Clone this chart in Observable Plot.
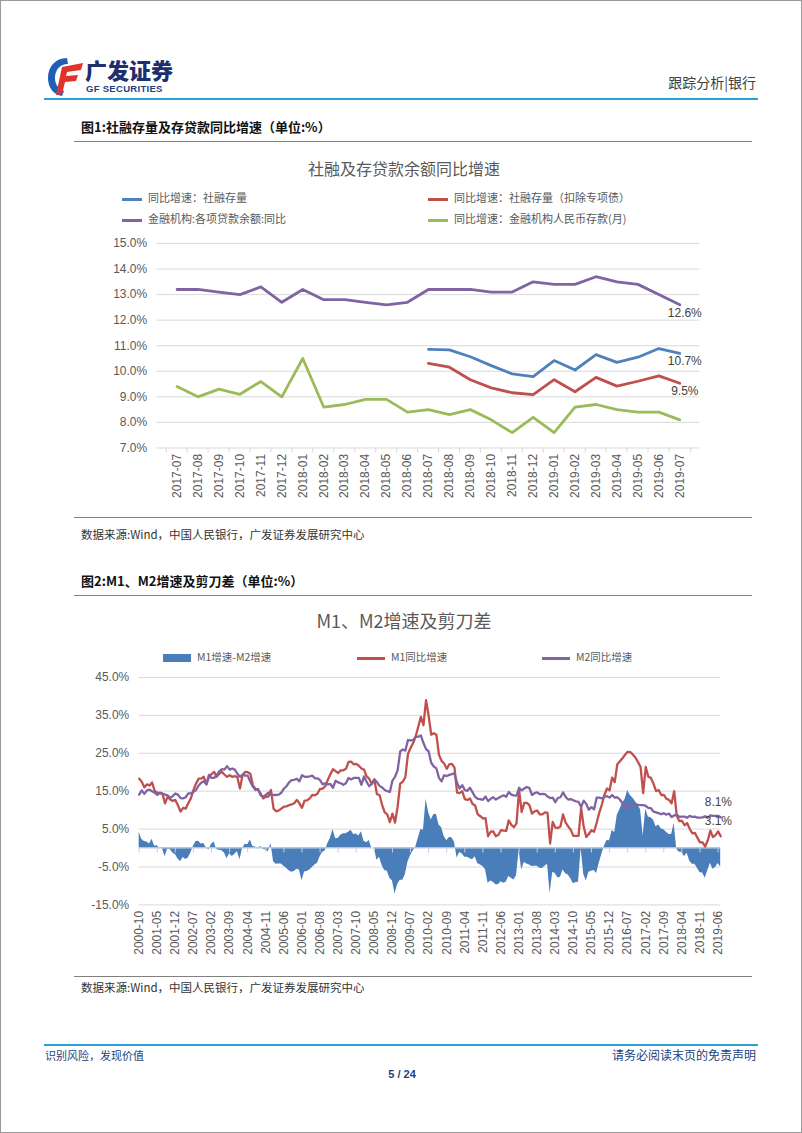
<!DOCTYPE html>
<html><head><meta charset="utf-8">
<script src="https://cdn.jsdelivr.net/npm/d3@7"></script>
<script src="https://cdn.jsdelivr.net/npm/@observablehq/plot@0.6"></script>
<style>
html,body{margin:0;padding:0;background:#fff;}
#page{position:relative;width:800px;height:1131px;border:1px solid #9a9a9a;overflow:hidden;font-family:"Noto Sans CJK SC","Noto Sans",sans-serif;background:#fff;}
.a{position:absolute;white-space:nowrap;}
.hline{position:absolute;height:0;}
.leg{position:absolute;font-size:11px;color:#595959;line-height:14px;white-space:nowrap;}
.sw{display:inline-block;vertical-align:middle;margin-right:6px;}
.chart{position:absolute;left:0;}
</style></head>
<body><div id="page">
  <!-- header logo -->
  <svg class="a" style="left:44px;top:54px" width="40" height="44" viewBox="0 0 40 44">
    <path d="M22 3 C10 3 3 12 3 23 C3 33 9 40 17 41 L19 36 C13 34 10 29 10 23 C10 15 15 9 23 9 Z" fill="#1f5fb5"/>
    <path d="M17 12 L38 8 L36 15 L22 17 L21 21 L33 20 L31 26 L20 27 L17 39 L11 40 Z" fill="#e0342a"/>
  </svg>
  <div class="a" style="left:84px;top:56px;font-size:22px;font-weight:900;color:#1d2f6f;line-height:24px">广发证券</div>
  <div class="a" style="left:85px;top:83px;font-size:9.5px;font-weight:bold;color:#1d3f80;font-family:'Liberation Sans',Arial,sans-serif;line-height:10px;letter-spacing:0.3px">GF SECURITIES</div>
  <div class="a" style="right:45px;top:72px;font-size:14px;color:#404040;line-height:18px">跟踪分析|银行</div>
  <div class="hline" style="left:43px;width:714px;top:97px;border-top:2px solid #2a9fd8"></div>

  <!-- figure 1 -->
  <div class="a" style="left:80px;top:117px;font-size:13px;font-weight:bold;color:#111;line-height:18px">图1:社融存量及存贷款同比增速（单位:%）</div>
  <div class="hline" style="left:73px;width:678px;top:140px;border-top:1.5px solid #808080"></div>
  <div class="a" style="left:0;width:806px;text-align:center;top:156px;font-size:16px;color:#595959;line-height:22px">社融及存贷款余额同比增速</div>
  <div class="leg" style="left:121px;top:189px"><span class="sw" style="width:20px;height:3px;background:#4f81bd"></span>同比增速：社融存量</div>
  <div class="leg" style="left:427px;top:189px"><span class="sw" style="width:20px;height:3px;background:#c0504d"></span>同比增速：社融存量（扣除专项债）</div>
  <div class="leg" style="left:121px;top:210px"><span class="sw" style="width:20px;height:3px;background:#8064a2"></span>金融机构:各项贷款余额:同比</div>
  <div class="leg" style="left:427px;top:210px"><span class="sw" style="width:20px;height:3px;background:#9bbb59"></span>同比增速：金融机构人民币存款(月)</div>
  <div id="chart1" class="chart" style="top:232px"></div>
  <div class="hline" style="left:73px;width:678px;top:516px;border-top:1.5px solid #808080"></div>
  <div class="a" style="left:80px;top:525px;font-size:11.5px;color:#333;line-height:16px">数据来源:Wind，中国人民银行，广发证券发展研究中心</div>

  <!-- figure 2 -->
  <div class="a" style="left:80px;top:571px;font-size:13px;font-weight:bold;color:#111;line-height:18px">图2:M1、M2增速及剪刀差（单位:%）</div>
  <div class="hline" style="left:73px;width:678px;top:594px;border-top:1.5px solid #808080"></div>
  <div class="a" style="left:0;width:806px;text-align:center;top:607px;font-size:18px;color:#595959;line-height:24px">M1、M2增速及剪刀差</div>
  <div class="leg" style="left:162px;top:649px;font-size:10.5px"><span class="sw" style="width:28px;height:8px;background:#4a7ebb"></span>M1增速-M2增速</div>
  <div class="leg" style="left:356px;top:649px;font-size:10.5px"><span class="sw" style="width:28px;height:3px;background:#c0504d"></span>M1同比增速</div>
  <div class="leg" style="left:541px;top:649px;font-size:10.5px"><span class="sw" style="width:28px;height:3px;background:#8064a2"></span>M2同比增速</div>
  <div id="chart2" class="chart" style="top:666px"></div>
  <div class="hline" style="left:73px;width:678px;top:975px;border-top:1.5px solid #808080"></div>
  <div class="a" style="left:80px;top:978px;font-size:11.5px;color:#333;line-height:16px">数据来源:Wind，中国人民银行，广发证券发展研究中心</div>

  <!-- footer -->
  <div class="hline" style="left:43px;width:714px;top:1043px;border-top:2px solid #2a9fd8"></div>
  <div class="a" style="left:44px;top:1047px;font-size:11px;color:#1d3f80;line-height:14px">识别风险，发现价值</div>
  <div class="a" style="right:45px;top:1046px;font-size:12px;color:#1d3f80;line-height:16px">请务必阅读末页的免责声明</div>
  <div class="a" style="left:0;width:802px;text-align:center;top:1066px;font-size:11px;font-weight:bold;color:#1d3f80;line-height:14px;font-family:'Liberation Sans',Arial,sans-serif">5 / 24</div>
</div>
<script>
// ---------- Figure 1 data ----------
const months1 = ["2017-07","2017-08","2017-09","2017-10","2017-11","2017-12","2018-01","2018-02","2018-03","2018-04","2018-05","2018-06","2018-07","2018-08","2018-09","2018-10","2018-11","2018-12","2019-01","2019-02","2019-03","2019-04","2019-05","2019-06","2019-07"];
const loanGrowth = [13.2,13.2,13.1,13.0,13.3,12.7,13.2,12.8,12.8,12.7,12.6,12.7,13.2,13.2,13.2,13.1,13.1,13.5,13.4,13.4,13.7,13.5,13.4,13.0,12.6];
const depositGrowth = [9.4,9.0,9.3,9.1,9.6,9.0,10.5,8.6,8.7,8.9,8.9,8.4,8.5,8.3,8.5,8.1,7.6,8.2,7.6,8.6,8.7,8.5,8.4,8.4,8.1];
const tsfMonths = months1.slice(12);
const tsfGrowth = [10.86,10.84,10.57,10.22,9.90,9.79,10.42,10.05,10.65,10.35,10.55,10.89,10.70];
const tsfExGrowth = [10.31,10.16,9.67,9.35,9.16,9.09,9.67,9.20,9.76,9.42,9.61,9.82,9.53];
const yTicks1 = [7,8,9,10,11,12,13,14,15];

// ---------- Figure 2 data ----------
const months2 = d3.utcMonths(new Date(Date.UTC(2000,9,1)), new Date(Date.UTC(2019,7,1))).map(d3.utcFormat("%Y-%m"));
const m1Growth = [
 18.3,17.5,16.0,16.8,16.5,17.3,15.1,14.6,14.4,14.3,
 11.8,13.5,12.8,12.4,12.7,11.3,9.6,10.6,10.4,11.8,
 13.1,15.3,17.0,18.3,18.3,18.8,16.8,18.8,19.5,20.1,
 18.8,19.6,20.1,19.4,18.8,19.2,18.8,19.0,18.7,15.7,
 19.2,20.1,20.0,19.6,16.6,15.6,15.3,14.4,13.1,13.5,
 13.6,15.3,10.4,9.7,9.9,10.4,10.9,11.0,11.3,11.5,
 11.8,12.7,11.8,10.6,12.5,12.6,13.1,14.0,13.9,14.4,
 15.6,15.7,16.3,18.0,19.5,20.8,20.3,19.8,20.5,20.5,
 20.9,22.7,22.8,22.1,22.2,21.7,21.0,20.7,18.9,18.3,
 16.9,18.1,14.2,14.0,11.4,9.4,8.9,6.8,9.1,6.7,
 10.9,17.0,17.5,18.7,24.8,
 26.4,27.7,29.5,32.0,34.6,32.4,
 39.0,34.9,29.9,30.3,29.9,24.6,23.0,22.3,20.9,22.1,22.2,21.2,
 14.6,14.5,15.0,12.9,12.7,13.1,11.6,11.2,8.9,8.4,7.8,7.9,
 3.1,4.3,4.4,3.1,3.5,4.7,4.6,4.5,7.3,6.1,5.5,6.5,
 15.3,9.5,11.9,11.9,11.3,9.1,9.7,9.9,8.9,8.9,9.4,9.3,
 1.2,6.9,5.4,5.3,5.7,8.9,6.7,5.7,4.8,3.2,3.2,3.2,
 10.6,5.6,2.9,3.7,4.7,4.3,6.6,9.3,11.4,14.0,15.7,15.2,
 18.6,17.4,22.1,22.9,23.7,24.6,25.4,25.3,24.7,23.9,22.7,21.4,
 14.5,21.4,18.8,18.5,17.0,15.0,15.3,14.0,14.0,13.0,12.7,11.8,
 15.0,8.5,7.1,7.2,6.0,6.6,5.1,3.9,4.0,2.7,1.5,1.5,
 0.4,2.0,4.6,2.9,3.4,4.4,3.1];
const m2Growth = [
 14.1,15.2,14.3,15.2,15.4,15.0,14.6,14.0,14.6,14.4,
 14.1,13.9,13.2,13.7,14.4,14.1,13.2,13.1,13.4,14.4,
 14.4,14.8,15.3,16.5,17.2,17.6,16.8,19.3,18.5,18.5,
 19.2,20.2,20.8,20.7,21.6,20.7,21.0,20.7,19.6,18.8,
 19.4,19.1,19.1,17.5,16.2,15.3,15.6,13.9,13.5,14.0,
 14.6,14.1,14.0,14.0,14.1,14.6,15.7,16.3,17.3,17.9,
 18.0,18.3,17.6,19.2,18.8,18.8,18.9,19.1,18.4,18.4,
 17.9,16.8,17.1,16.8,16.9,15.9,17.8,17.3,17.1,16.7,
 17.1,18.5,18.1,18.5,18.5,18.5,16.7,18.9,17.5,16.3,
 16.9,18.1,17.4,16.4,16.0,15.3,15.0,14.8,17.8,18.8,
 20.5,25.5,26.0,25.7,28.5,
 28.4,28.5,29.3,29.4,29.7,27.7,
 26.1,25.5,22.5,21.5,21.0,18.5,17.6,19.2,19.0,19.3,19.5,19.7,
 17.2,15.7,16.6,15.3,15.1,15.9,14.7,13.5,13.0,12.9,12.7,13.6,
 12.4,13.0,13.4,12.8,13.2,13.6,13.9,13.5,14.8,14.1,13.9,13.8,
 15.9,15.2,15.7,16.1,15.8,14.0,14.5,14.7,14.2,14.3,14.2,13.6,
 13.2,13.3,12.1,13.2,13.4,14.7,13.5,12.8,12.9,12.6,12.3,12.2,
 10.8,12.5,11.6,10.1,10.8,10.2,13.3,13.3,13.1,13.5,13.7,13.3,
 14.0,13.3,13.4,12.8,11.8,11.8,10.2,11.4,11.5,11.6,11.4,11.3,
 11.3,11.1,10.6,10.5,9.6,9.4,9.2,8.9,9.2,8.8,9.1,8.2,
 8.6,8.8,8.2,8.3,8.3,8.0,8.5,8.2,8.3,8.0,8.0,8.1,
 8.4,8.0,8.6,8.5,8.5,8.5,8.1];
const yTicks2 = [-15,-5,5,15,25,35,45];
const xTicks2 = months2.filter((d, i) => i % 7 === 0);

const C = {blue:"#4f81bd", red:"#c0504d", green:"#9bbb59", purple:"#8064a2", area:"#4a7ebb", grid:"#d9d9d9", text:"#595959"};
const pct = d => d.toFixed(1) + "%";
const axisStyle = {fontFamily:"'Liberation Sans', Arial, sans-serif", fontSize:"12px", color:C.text, background:"transparent", overflow:"visible"};

// ---------- Chart 1 ----------
const rows1 = months1.map((m, i) => ({m, loan: loanGrowth[i], dep: depositGrowth[i]}));
const rowsTsf = tsfMonths.map((m, i) => ({m, tsf: tsfGrowth[i], ex: tsfExGrowth[i]}));
const last1 = months1[months1.length - 1];
const step1 = (700 - 156) / months1.length;
const ends1 = [
  {m: last1, v: loanGrowth[loanGrowth.length - 1]},
  {m: last1, v: tsfGrowth[tsfGrowth.length - 1]},
  {m: last1, v: tsfExGrowth[tsfExGrowth.length - 1]}
];
const chart1 = Plot.plot({
  width: 802, height: 275,
  marginLeft: 156, marginRight: 102, marginTop: 10, marginBottom: 60,
  style: axisStyle,
  x: {type: "point", domain: months1, padding: 0.5, axis: null},
  y: {domain: [7, 15], axis: null},
  marks: [
    Plot.ruleY(yTicks1, {y: d => d, stroke: C.grid, strokeWidth: 1}),
    Plot.ruleX(months1, {x: d => d, dx: -step1 / 2, y1: 7, y2: 6.8, stroke: C.grid}),
    Plot.ruleX([last1], {x: d => d, dx: step1 / 2, y1: 7, y2: 6.8, stroke: C.grid}),
    Plot.axisY(yTicks1, {tickSize: 0, tickPadding: 10, tickFormat: pct, fill: C.text, fontSize: 12, label: null}),
    Plot.axisX(months1, {tickRotate: -90, tickSize: 0, tickPadding: 6, fill: C.text, fontSize: 12, label: null}),
    Plot.line(rows1, {x: "m", y: "loan", stroke: C.purple, strokeWidth: 2.8, strokeLinejoin: "round"}),
    Plot.line(rows1, {x: "m", y: "dep", stroke: C.green, strokeWidth: 2.8, strokeLinejoin: "round"}),
    Plot.line(rowsTsf, {x: "m", y: "tsf", stroke: C.blue, strokeWidth: 2.8, strokeLinejoin: "round"}),
    Plot.line(rowsTsf, {x: "m", y: "ex", stroke: C.red, strokeWidth: 2.8, strokeLinejoin: "round"}),
    Plot.text(ends1, {x: "m", y: "v", text: d => pct(d.v), dx: 5, dy: 8, fill: "#404040", fontSize: 12, textAnchor: "middle"})
  ]
});
document.getElementById("chart1").appendChild(chart1);

// ---------- Chart 2 ----------
const rows2 = months2.map((m, i) => ({m, m1: m1Growth[i], m2: m2Growth[i], diff: m1Growth[i] - m2Growth[i]}));
const last2 = months2[months2.length - 1];
const ends2 = [
  {m: last2, v: m2Growth[m2Growth.length - 1]},
  {m: last2, v: m1Growth[m1Growth.length - 1]}
];
const chart2 = Plot.plot({
  width: 802, height: 305,
  marginLeft: 138, marginRight: 81, marginTop: 10, marginBottom: 67,
  style: axisStyle,
  x: {type: "point", domain: months2, padding: 0, axis: null},
  y: {domain: [-15, 45], axis: null},
  marks: [
    Plot.ruleY(yTicks2, {y: d => d, stroke: C.grid, strokeWidth: 1}),
    Plot.areaY(rows2, {x: "m", y: "diff", fill: C.area}),
    Plot.ruleY([0], {stroke: "#c3cfe0", strokeWidth: 1}),
    Plot.ruleX(xTicks2, {x: d => d, y1: 0, y2: -1.3, stroke: "#c3cfe0"}),
    Plot.axisY(yTicks2, {tickSize: 0, tickPadding: 10, tickFormat: pct, fill: C.text, fontSize: 12, label: null}),
    Plot.axisX(xTicks2, {tickRotate: -90, tickSize: 0, tickPadding: 6, fill: C.text, fontSize: 12, label: null}),
    Plot.line(rows2, {x: "m", y: "m1", stroke: C.red, strokeWidth: 2.3, strokeLinejoin: "round"}),
    Plot.line(rows2, {x: "m", y: "m2", stroke: C.purple, strokeWidth: 2.3, strokeLinejoin: "round"}),
    Plot.text(ends2, {x: "m", y: "v", text: d => pct(d.v), dx: -16, dy: -15, fill: "#404040", fontSize: 12, textAnchor: "start"})
  ]
});
document.getElementById("chart2").appendChild(chart2);
</script>
</body></html>
